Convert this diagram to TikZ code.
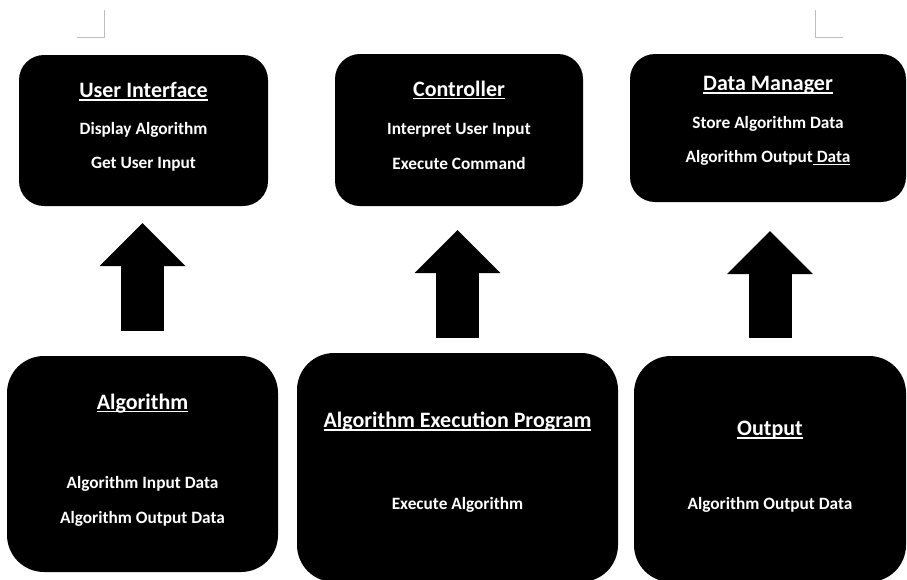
\documentclass[tikz,border=0pt]{standalone}
\usepackage{fontspec}
\setmainfont{Carlito}
\usetikzlibrary{positioning, arrows.meta}

% underline at a fixed depth, as the word processor does it
\newcommand{\undl}[1]{\setbox0\hbox{#1}\rlap{\rule[-0.14em]{\wd0}{0.06em}}\box0}
\newcommand{\modtitle}[1]{{\fontsize{22}{34.5}\selectfont\undl{#1}}}

\begin{document}
\begin{tikzpicture}[x=1pt, y=-1pt,
      font=\fontsize{17.3}{34.5}\selectfont\bfseries,
      module/.style={fill=black, text=white, align=center, inner sep=0pt, rounded corners=25pt},
      bigmodule/.style={module, rounded corners=37pt},
      lift/.style={text depth=#1},
      uparrow/.style={line width=43pt, -{Triangle[length=43pt 0 0, width=86pt 0 0, line width=0pt 0 0]}},
      pagemark/.style={draw=black!25, line width=0.8pt}]
    \useasboundingbox (0,0) rectangle (907,579);
    % page corner marks
    \draw[pagemark] (77,37) -- (104,37) -- (104,10);
    \draw[pagemark] (843,37) -- (815,37) -- (815,10);
    % --- top row ---
    \node[module, lift=9.8pt, minimum width=249pt, minimum height=151pt] (ui) at (143.5,130.5)
      {\modtitle{User Interface}\\[2.5pt] Display Algorithm\\ Get User Input};
    \node[module, lift=10pt, minimum width=248pt, minimum height=152pt] (ctrl) at (459,130)
      {\modtitle{Controller}\\[4pt] Interpret User Input\\ Execute Command};
    \node[module, lift=16.8pt, minimum width=276pt, minimum height=148pt] (data) at (768,128)
      {\modtitle{Data Manager}\\[3.5pt] Store Algorithm Data\\ Algorithm Output\undl{ Data}};
    % --- bottom row ---
    \node[bigmodule, lift=10.8pt, minimum width=271pt, minimum height=216pt] (alg) at (142.5,464)
      {\modtitle{Algorithm}\\[45pt] Algorithm Input Data\\ Algorithm Output Data};
    \node[bigmodule, lift=13.8pt, minimum width=321pt, minimum height=229pt] (exec) at (457.5,467.5)
      {\modtitle{Algorithm Execution Program}\\[47pt] Execute Algorithm};
    \node[bigmodule, lift=7.8pt, minimum width=272pt, minimum height=226pt] (out) at (770,469)
      {\modtitle{Output}\\[39pt] Algorithm Output Data};
    % block arrows between the rows
    \draw[uparrow, shorten <=25pt, shorten >=17pt] (alg.north) -- (alg.north |- ui.south);
    \draw[uparrow, shorten <=15pt, shorten >=24pt] (exec.north) -- (exec.north |- ctrl.south);
    \draw[uparrow, shorten <=18pt, shorten >=29pt] (out.north) -- (out.north |- data.south);
\end{tikzpicture}
\end{document}
